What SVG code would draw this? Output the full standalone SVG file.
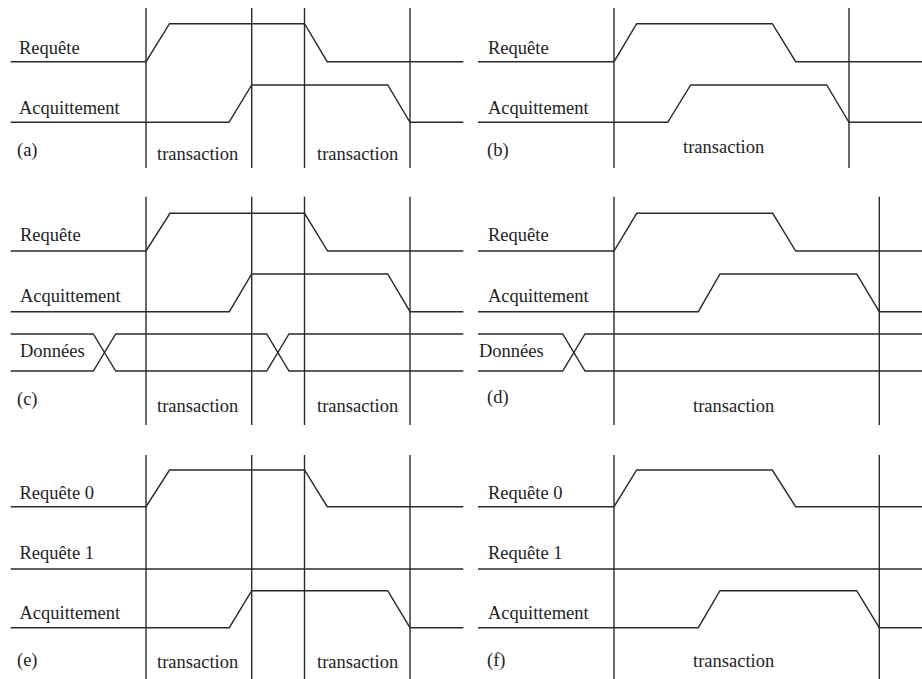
<svg xmlns="http://www.w3.org/2000/svg" width="922" height="679" viewBox="0 0 922 679">
<style>
  .bg { fill: #ffffff; }
  .sig { fill: none; stroke: #2a2a2a; stroke-width: 1.4; stroke-linejoin: miter; }
  .grid { fill: none; stroke: #2a2a2a; stroke-width: 1.4; }
  text { font-family: 'Liberation Serif', 'DejaVu Serif', serif; font-size: 18.5px; fill: #1e1e1e; }
</style>
<rect class="bg" x="0" y="0" width="922" height="679"/>

<!-- Panel (a) -->
<g id="panel-a" font-family="Liberation Serif, DejaVu Serif, serif">
  <g id="a-grid">
    <line class="grid" x1="146" y1="8" x2="146" y2="168"/>
    <line class="grid" x1="251.7" y1="8" x2="251.7" y2="168"/>
    <line class="grid" x1="304.5" y1="8" x2="304.5" y2="168"/>
    <line class="grid" x1="410" y1="8" x2="410" y2="168"/>
  </g>
  <g id="a-requete">
    <polyline class="sig" points="10.7,61.7 146,61.7 169.5,23.7 304.5,23.7 327.2,61.7 463.3,61.7"/>
    <text x="19" y="54">Requête</text>
  </g>
  <g id="a-acquittement">
    <polyline class="sig" points="10.7,122.3 229,122.3 251.7,85 387.7,85 410,122.3 463.3,122.3"/>
    <text x="19" y="114">Acquittement</text>
  </g>
  <text x="17" y="156">(a)</text>
  <text x="157" y="160">transaction</text>
  <text x="317" y="160">transaction</text>
</g>

<!-- Panel (b) -->
<g id="panel-b">
  <g id="b-grid">
    <line class="grid" x1="614" y1="8" x2="614" y2="168"/>
    <line class="grid" x1="849" y1="8" x2="849" y2="168"/>
  </g>
  <g id="b-requete">
    <polyline class="sig" points="478,61.7 614,61.7 636.7,23.7 772.3,23.7 795.7,61.7 922,61.7"/>
    <text x="488" y="54">Requête</text>
  </g>
  <g id="b-acquittement">
    <polyline class="sig" points="478,122.3 667.7,122.3 690.7,85 826.7,85 849,122.3 922,122.3"/>
    <text x="488" y="114">Acquittement</text>
  </g>
  <text x="487" y="156">(b)</text>
  <text x="683" y="153">transaction</text>
</g>

<!-- Panel (c) -->
<g id="panel-c">
  <g id="c-grid">
    <line class="grid" x1="146" y1="196.7" x2="146" y2="425"/>
    <line class="grid" x1="251.7" y1="196.7" x2="251.7" y2="425"/>
    <line class="grid" x1="304.5" y1="196.7" x2="304.5" y2="425"/>
    <line class="grid" x1="410" y1="196.7" x2="410" y2="425"/>
  </g>
  <g id="c-requete">
    <polyline class="sig" points="10.7,251 146,251 170,213.3 304.5,213.3 327.7,251 463.3,251"/>
    <text x="20" y="241">Requête</text>
  </g>
  <g id="c-acquittement">
    <polyline class="sig" points="10.7,311.7 229.3,311.7 251.7,274 387.7,274 410,311.7 463.3,311.7"/>
    <text x="20" y="301.7">Acquittement</text>
  </g>
  <g id="c-donnees">
    <polyline class="sig" points="10.7,334 93.3,334 115.7,371 266.7,371 289,334 463.3,334"/>
    <polyline class="sig" points="10.7,371 93.3,371 115.7,334 266.7,334 289,371 463.3,371"/>
    <text x="20" y="357">Données</text>
  </g>
  <text x="17" y="405">(c)</text>
  <text x="157" y="411.5">transaction</text>
  <text x="317" y="411.5">transaction</text>
</g>

<!-- Panel (d) -->
<g id="panel-d">
  <g id="d-grid">
    <line class="grid" x1="614" y1="196.7" x2="614" y2="425"/>
    <line class="grid" x1="879.3" y1="196.7" x2="879.3" y2="425"/>
  </g>
  <g id="d-requete">
    <polyline class="sig" points="478,251 614,251 636.7,213.3 772.7,213.3 795.7,251 922,251"/>
    <text x="488" y="241">Requête</text>
  </g>
  <g id="d-acquittement">
    <polyline class="sig" points="478,311.7 698.3,311.7 720,274 856.7,274 879.3,311.7 922,311.7"/>
    <text x="488" y="301.7">Acquittement</text>
  </g>
  <g id="d-donnees">
    <polyline class="sig" points="478,334 562.7,334 585,371 922,371"/>
    <polyline class="sig" points="478,371 562.7,371 585,334 922,334"/>
    <text x="479" y="357">Données</text>
  </g>
  <text x="487" y="403">(d)</text>
  <text x="693" y="411.5">transaction</text>
</g>

<!-- Panel (e) -->
<g id="panel-e">
  <g id="e-grid">
    <line class="grid" x1="146" y1="455" x2="146" y2="679"/>
    <line class="grid" x1="251.7" y1="455" x2="251.7" y2="679"/>
    <line class="grid" x1="304.5" y1="455" x2="304.5" y2="679"/>
    <line class="grid" x1="410" y1="455" x2="410" y2="679"/>
  </g>
  <g id="e-requete0">
    <polyline class="sig" points="10.7,506.7 146,506.7 169.5,470 304.5,470 327.2,506.7 463.3,506.7"/>
    <text x="19.5" y="498.5">Requête 0</text>
  </g>
  <g id="e-requete1">
    <line class="sig" x1="10.7" y1="569" x2="463.3" y2="569"/>
    <text x="19.5" y="559">Requête 1</text>
  </g>
  <g id="e-acquittement">
    <polyline class="sig" points="10.7,627.7 229.3,627.7 251.7,590.7 387.7,590.7 410,627.7 463.3,627.7"/>
    <text x="19.5" y="619">Acquittement</text>
  </g>
  <text x="17" y="666">(e)</text>
  <text x="157" y="667.5">transaction</text>
  <text x="317" y="667.5">transaction</text>
</g>

<!-- Panel (f) -->
<g id="panel-f">
  <g id="f-grid">
    <line class="grid" x1="614" y1="455" x2="614" y2="679"/>
    <line class="grid" x1="879.3" y1="455" x2="879.3" y2="679"/>
  </g>
  <g id="f-requete0">
    <polyline class="sig" points="478,506.7 614,506.7 636.7,470 772.3,470 795.7,506.7 922,506.7"/>
    <text x="488" y="498.5">Requête 0</text>
  </g>
  <g id="f-requete1">
    <line class="sig" x1="478" y1="569" x2="922" y2="569"/>
    <text x="488" y="559">Requête 1</text>
  </g>
  <g id="f-acquittement">
    <polyline class="sig" points="478,627.7 698.3,627.7 720,590.7 856.7,590.7 879.3,627.7 922,627.7"/>
    <text x="488" y="619">Acquittement</text>
  </g>
  <text x="487" y="666">(f)</text>
  <text x="693" y="667">transaction</text>
</g>
</svg>
